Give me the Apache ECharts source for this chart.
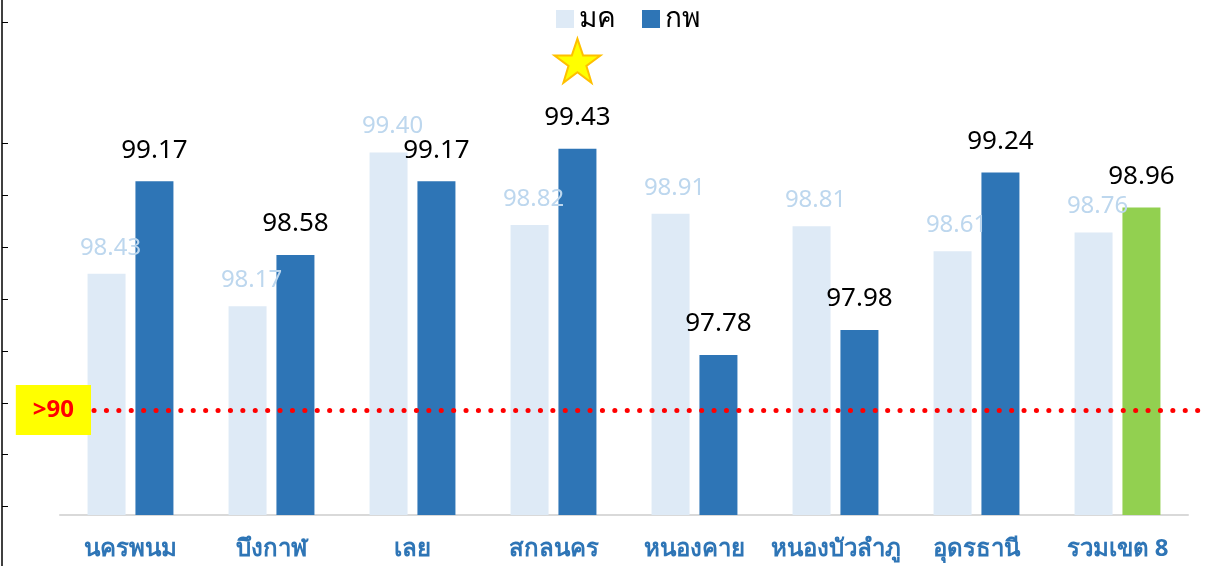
<!DOCTYPE html>
<html>
<head>
<meta charset="utf-8">
<script src="https://cdn.jsdelivr.net/npm/echarts@6/dist/echarts.min.js"></script>
<style>
  html, body { margin: 0; padding: 0; background: #fff; }
  #chart { width: 1215px; height: 566px; }
</style>
</head>
<body>
<div id="chart"></div>
<script>
var categories = ['นครพนม', 'บึงกาฬ', 'เลย', 'สกลนคร', 'หนองคาย', 'หนองบัวลำภู', 'อุดรธานี', 'รวมเขต 8'];
var janValues = [98.43, 98.17, 99.40, 98.82, 98.91, 98.81, 98.61, 98.76];
var febValues = [99.17, 98.58, 99.17, 99.43, 97.78, 97.98, 99.24, 98.96];
var target = 97.34;          // where the ">90" line sits on the value axis
var leftTicks = [22, 143, 195, 247, 299, 351, 403, 454, 506];

var font = '"Noto Sans", sans-serif';
var starPath = 'path://M50,0 L61.8,35.1 L98.1,35.1 L68.7,56.8 L79.4,91.9 L50,70 L20.6,91.9 L31.3,56.8 L1.9,35.1 L38.2,35.1 Z';

var febData = febValues.map(function (v, i) {
    if (i === febValues.length - 1) {
        return { value: v, itemStyle: { color: '#92D050' } };
    }
    return v;
});

var chart = echarts.init(document.getElementById('chart'));

chart.setOption({
    animation: false,
    textStyle: { fontFamily: font },
    legend: {
        data: ['มค', 'กพ'],
        top: 0,
        left: 551,
        icon: 'rect',
        itemWidth: 18,
        itemHeight: 18,
        itemGap: 26,
        textStyle: { fontSize: 28, color: '#000', fontFamily: font }
    },
    grid: [
        { left: 60, right: 27, top: 15, bottom: 51 },
        { left: 0, right: 0, top: 15, bottom: 51 },
        { left: 2, width: 10, top: 0, bottom: 0 }
    ],
    xAxis: [{
        type: 'category',
        data: categories,
        gridIndex: 0,
        axisLine: { lineStyle: { color: '#d9d9d9', width: 2 } },
        axisTick: { show: false },
        axisLabel: {
            color: '#2E75B6',
            fontSize: 24,
            fontWeight: 'bold',
            margin: 22,
            interval: 0,
            fontFamily: font
        }
    }, {
        type: 'value', gridIndex: 1, min: 0, max: 1215, show: false
    }, {
        type: 'value', gridIndex: 2, min: 0, max: 1, show: false
    }],
    yAxis: [{
        type: 'value', gridIndex: 0, min: 96.5, max: 100.5, show: false
    }, {
        type: 'value', gridIndex: 1, min: 96.5, max: 100.5, show: false
    }, {
        type: 'value',
        gridIndex: 2,
        min: 0,
        max: 566,
        inverse: true,
        position: 'left',
        axisLine: { show: true, lineStyle: { color: '#000', width: 1.5 } },
        axisTick: { show: true, inside: true, length: 6, customValues: leftTicks, lineStyle: { color: '#000' } },
        axisLabel: { show: false },
        splitLine: { show: false }
    }],
    series: [{
        name: 'มค',
        type: 'bar',
        data: janValues,
        barWidth: 38,
        barGap: '26%',
        itemStyle: { color: '#DEEAF6' },
        label: {
            show: true,
            position: 'top',
            distance: 14,
            offset: [4, 0],
            color: '#BDD7EE',
            fontSize: 24,
            fontFamily: font,
            formatter: function (p) { return p.value.toFixed(2); }
        }
    }, {
        name: 'กพ',
        type: 'bar',
        data: febData,
        barWidth: 38,
        itemStyle: { color: '#2E75B6' },
        label: {
            show: true,
            position: 'top',
            distance: 18,
            color: '#000',
            fontSize: 26,
            fontFamily: font,
            formatter: function (p) { return p.value.toFixed(2); }
        },
        markPoint: {
            symbol: starPath,
            symbolSize: [46, 44],
            symbolOffset: [0, -88],
            itemStyle: { color: '#FFFF00', borderColor: '#FFC000', borderWidth: 2 },
            label: { show: false },
            data: [{ coord: [categories[3], febValues[3]] }]
        }
    }, {
        type: 'line',
        xAxisIndex: 1,
        yAxisIndex: 1,
        data: [],
        silent: true,
        markLine: {
            silent: true,
            symbol: 'none',
            lineStyle: { color: '#FF0000', width: 5, type: [0.1, 12.3], cap: 'round' },
            label: {
                show: true,
                position: 'start',
                distance: 3,
                formatter: '>90',
                color: '#FF0000',
                fontSize: 24,
                fontWeight: 'bold',
                fontFamily: font,
                backgroundColor: '#FFFF00',
                padding: [13, 17]
            },
            data: [[{ coord: [94, target] }, { coord: [1200, target] }]]
        }
    }]
});
</script>
</body>
</html>
